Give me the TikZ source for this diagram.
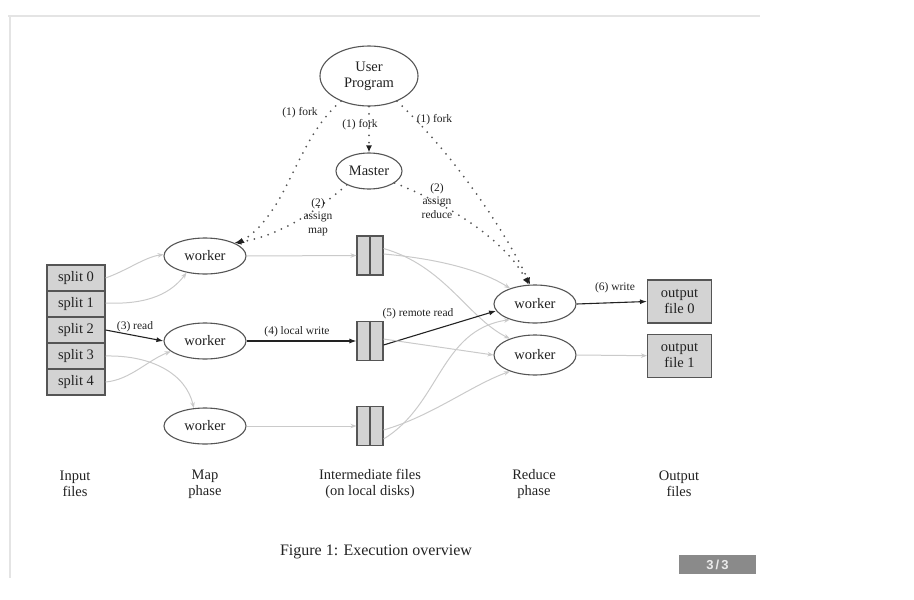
\documentclass[tikz,border=0pt]{standalone}
\usepackage{fontspec}
\setmainfont{Liberation Serif}
\newfontfamily\badgefont{Liberation Sans}
\usetikzlibrary{shapes.geometric,arrows.meta}
\definecolor{linegray}{HTML}{555555}
\definecolor{boxgray}{HTML}{D3D3D3}
\definecolor{lightedge}{HTML}{CACACA}
\definecolor{inkc}{HTML}{222222}
\definecolor{dotc}{HTML}{555555}
\definecolor{pageline}{HTML}{E4E4E4}
\definecolor{badgegray}{HTML}{8A8A8A}
\begin{document}
\begin{tikzpicture}[x=1pt,y=-1pt,
  every node/.style={font=\fontsize{14.5}{16}\selectfont,text=inkc},
  proc/.style={ellipse,draw=linegray,line width=1.1pt,fill=white,inner sep=0pt,minimum width=82pt,minimum height=36pt,align=center},
  splitbox/.style={rectangle,draw=linegray,line width=1.1pt,fill=boxgray,inner sep=0pt,minimum width=58pt,minimum height=26pt},
  interbox/.style={rectangle,draw=linegray,line width=1.1pt,fill=boxgray,inner sep=0pt,minimum width=26pt,minimum height=39pt},
  outbox/.style={rectangle,draw=linegray,line width=1.1pt,fill=boxgray,inner sep=0pt,minimum width=64pt,minimum height=43pt,align=center},
  lbl/.style={font=\fontsize{11.5}{13.5}\selectfont,align=center,inner sep=1pt},
  phase/.style={font=\fontsize{14.5}{16}\selectfont,align=center},
  faint/.style={draw=lightedge,line width=1pt,-{Stealth[length=6pt,width=4.5pt]}},
  strong/.style={draw=inkc,line width=1.1pt,-{Latex[length=7pt,width=5pt]}},
  dots/.style={draw=dotc,line width=2pt,line cap=round,dash pattern=on 0pt off 7.2pt,-{Latex[length=7pt,width=6pt,color=inkc]}}
]
\useasboundingbox (0,0) rectangle (914,600);
% page frame
\draw[pageline,line width=1.5pt] (8,16) -- (760,16);
\draw[pageline,line width=1.2pt] (10,16) -- (10,578);

% top nodes
\node[proc,minimum width=98pt,minimum height=60pt] (up) at (369,76) {User\\Program};
\node[proc,minimum width=66pt,minimum height=36pt] (ms) at (369,171) {Master};

% splits
\node[splitbox] (s0) at (76,278) {split 0};
\node[splitbox] (s1) at (76,304) {split 1};
\node[splitbox] (s2) at (76,330) {split 2};
\node[splitbox] (s3) at (76,356) {split 3};
\node[splitbox] (s4) at (76,382) {split 4};

% map workers
\node[proc] (w1) at (205,256) {worker};
\node[proc] (w2) at (205,341) {worker};
\node[proc] (w3) at (205,426) {worker};

% intermediate files
\node[interbox] (f1) at (370,255.5) {};
\node[interbox] (f2) at (370,341) {};
\node[interbox] (f3) at (370,426) {};
\draw[linegray,line width=1.1pt] (f1.north) -- (f1.south);
\draw[linegray,line width=1.1pt] (f2.north) -- (f2.south);
\draw[linegray,line width=1.1pt] (f3.north) -- (f3.south);

% reduce workers
\node[proc,minimum height=38pt] (r1) at (535,304) {worker};
\node[proc,minimum height=40pt] (r2) at (535,355) {worker};

% outputs
\node[outbox] (o0) at (679.5,301.5) {output\\file 0};
\node[outbox] (o1) at (679.5,355.7) {output\\file 1};

% split -> map
\draw[faint] (s0.east) .. controls (128,270) and (145,257) .. (w1.178);
\draw[faint] ([yshift=1pt]s1.east) .. controls (150,305) and (172,292) .. (w1.222);
\draw[strong] (s2.east) -- (w2.west);
\draw[faint] (s3.east) .. controls (152,355) and (186,374) .. (w3.122);
\draw[faint] (s4.east) .. controls (130,380) and (148,360) .. (w2.197);

% map -> intermediate
\draw[faint] (w1.east) -- (f1.west);
\draw[strong] (w2.east) -- (f2.west);
\draw[faint] (w3.east) -- (f3.west);

% intermediate -> reduce
\draw[faint] ([yshift=1.5pt]f1.east) .. controls (430,258) and (478,268) .. (r1.148);
\draw[faint] ([yshift=7pt]f1.east) .. controls (445,266) and (468,318) .. (r2.147);
\draw[strong] ([yshift=-4pt]f2.east) -- (r1.190);
\draw[faint] ([yshift=2pt]f2.east) -- (r2.180);
\draw[faint] ([yshift=-13pt]f3.east) .. controls (440,405) and (440,330) .. (r1.212);
\draw[faint] ([yshift=-4pt]f3.east) .. controls (432,416) and (470,386) .. (r2.213);

% reduce -> output
\draw[strong] (r1.east) -- (o0.west);
\draw[faint] (r2.east) -- (o1.west);

% dotted control lines
\draw[dots] (up.south) -- (ms.north);
\draw[dots] (up.222) .. controls (295,140) and (290,210) .. (w1.20);
\draw[dots] (ms.212) .. controls (318,210) and (280,236) .. (w1.24);
\draw[dots] (up.318) .. controls (450,150) and (505,230) .. (r1.104);
\draw[dots] (ms.335) .. controls (450,205) and (505,240) .. (r1.108);

% edge labels
\node[lbl] (lf1) at (300,113) {(1) fork};
\node[lbl] (lf2) at (360,125) {(1) fork};
\node[lbl] (lf3) at (434.5,120) {(1) fork};
\node[lbl] (lam) at (318,217) {(2)\\assign\\map};
\node[lbl] (lar) at (437,201) {(2)\\assign\\reduce};
\node[lbl] (lrd) at (135,326.5) {(3) read};
\node[lbl] (llw) at (297,332) {(4) local write};
\node[lbl] (lrr) at (418,313.5) {(5) remote read};
\node[lbl] (lwr) at (615,288) {(6) write};

% phase labels
\node[phase] (p1) at (75,484) {Input\\files};
\node[phase] (p2) at (205,484) {Map\\phase};
\node[phase] (p3) at (370,484) {Intermediate files\\(on local disks)};
\node[phase] (p4) at (534,484) {Reduce\\phase};
\node[phase] (p5) at (679,484) {Output\\files};

% caption
\node[font=\fontsize{16}{18}\selectfont] (cap) at (376,552) {Figure 1: Execution overview};

% page badge
\node[fill=badgegray,minimum width=77pt,minimum height=19pt,inner sep=0pt,text=white!92!black,font=\badgefont\bfseries\fontsize{13}{14}\selectfont] (badge) at (717.5,564.5) {3\,/\,3};
\end{tikzpicture}
\end{document}
